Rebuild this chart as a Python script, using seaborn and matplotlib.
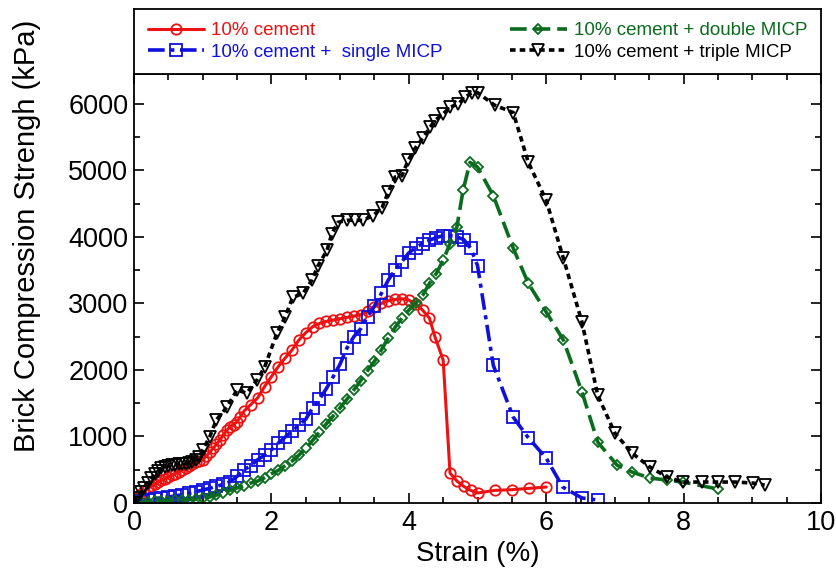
import numpy as np
import seaborn as sns
import matplotlib
matplotlib.use("Agg")
import matplotlib.pyplot as plt
from matplotlib.ticker import MultipleLocator

# data (strain %, stress kPa)
strain_c = [0, 0.05, 0.1, 0.15, 0.2, 0.25, 0.3, 0.35, 0.4, 0.45, 0.5, 0.55, 0.6, 0.65, 0.7,
            0.75, 0.8, 0.85, 0.9, 0.95, 1.0, 1.05, 1.1, 1.15, 1.2, 1.25, 1.3, 1.35, 1.4, 1.45,
            1.5, 1.55, 1.6, 1.7, 1.8, 1.9, 2.0, 2.1, 2.2, 2.3, 2.4, 2.5, 2.6, 2.7, 2.8, 2.9,
            3.0, 3.1, 3.2, 3.3, 3.4, 3.5, 3.6, 3.7, 3.8, 3.9, 4.0, 4.1, 4.2, 4.3, 4.38, 4.5,
            4.6, 4.7, 4.8, 4.9, 5.0, 5.25, 5.5, 5.75, 6.0]
stress_c = [0, 70, 130, 180, 220, 250, 280, 310, 340, 365, 390, 415, 440, 465, 495,
            525, 555, 585, 610, 630, 650, 700, 760, 820, 880, 950, 1020, 1090, 1150, 1180,
            1220, 1300, 1380, 1480, 1580, 1750, 1900, 2050, 2180, 2300, 2450, 2560, 2650, 2700, 2730, 2750,
            2770, 2790, 2810, 2830, 2880, 2950, 3000, 3040, 3060, 3070, 3050, 2990, 2900, 2780, 2500, 2150,
            450, 330, 250, 190, 150, 190, 200, 220, 240]

strain_s = [0, 0.1, 0.2, 0.3, 0.4, 0.5, 0.6, 0.7, 0.8, 0.9, 1.0, 1.1, 1.2, 1.3, 1.4, 1.5,
            1.6, 1.7, 1.8, 1.9, 2.0, 2.1, 2.2, 2.3, 2.4, 2.5, 2.6, 2.7, 2.8, 2.9, 3.0, 3.1,
            3.2, 3.3, 3.4, 3.5, 3.6, 3.7, 3.8, 3.9, 4.0, 4.1, 4.2, 4.3, 4.4, 4.5, 4.6, 4.7,
            4.8, 4.9, 5.0, 5.23, 5.52, 5.74, 6.0, 6.24, 6.52, 6.75]
stress_s = [0, 30, 50, 65, 80, 90, 105, 125, 145, 170, 195, 220, 250, 280, 320, 400,
            500, 560, 650, 720, 800, 900, 990, 1080, 1170, 1260, 1430, 1560, 1720, 1900, 2090, 2330,
            2500, 2620, 2800, 2960, 3150, 3350, 3500, 3630, 3760, 3840, 3900, 3950, 3990, 4020, 4020, 4000,
            3960, 3830, 3570, 2070, 1290, 980, 675, 240, 75, 45]

strain_d = [0, 0.1, 0.2, 0.3, 0.4, 0.5, 0.6, 0.7, 0.8, 0.9, 1.0, 1.1, 1.2, 1.3, 1.4, 1.5,
            1.6, 1.7, 1.8, 1.9, 2.0, 2.1, 2.2, 2.3, 2.4, 2.5, 2.6, 2.7, 2.8, 2.9, 3.0, 3.1,
            3.2, 3.3, 3.4, 3.5, 3.6, 3.7, 3.8, 3.9, 4.0, 4.1, 4.2, 4.3, 4.4, 4.5, 4.6, 4.7,
            4.79, 4.89, 5.0, 5.23, 5.52, 5.74, 6.0, 6.25, 6.52, 6.75, 7.03, 7.25, 7.51, 7.76, 7.99, 8.5]
stress_d = [0, 10, 20, 25, 30, 35, 40, 45, 50, 55, 75, 90, 120, 150, 190, 225,
            260, 300, 330, 380, 440, 490, 560, 630, 720, 820, 940, 1070, 1190, 1310, 1430, 1560,
            1700, 1840, 1990, 2130, 2300, 2480, 2640, 2780, 2900, 3000, 3120, 3300, 3450, 3650, 3900, 4150,
            4700, 5120, 5050, 4620, 3830, 3300, 2870, 2450, 1670, 915, 570, 465, 375, 345, 315, 210]

strain_t = [0, 0.05, 0.1, 0.15, 0.2, 0.25, 0.3, 0.35, 0.4, 0.45, 0.5, 0.55, 0.6, 0.65, 0.7,
            0.75, 0.8, 0.85, 0.9, 0.95, 1.0, 1.1, 1.2, 1.35, 1.5, 1.64, 1.79, 1.9, 2.08, 2.2,
            2.31, 2.46, 2.59, 2.68, 2.81, 2.88, 2.97, 3.1, 3.22, 3.33, 3.48, 3.61, 3.7, 3.8, 3.9,
            3.99, 4.09, 4.2, 4.31, 4.38, 4.5, 4.6, 4.72, 4.82, 4.92, 5.0, 5.25, 5.52, 5.74, 6.0,
            6.25, 6.52, 6.75, 7.0, 7.25, 7.51, 7.76, 7.99, 8.27, 8.5, 8.75, 9.01, 9.18]
stress_t = [0, 80, 160, 230, 300, 370, 430, 480, 520, 545, 560, 570, 575, 580, 585,
            590, 600, 620, 650, 690, 800, 990, 1250, 1440, 1700, 1650, 1850, 2040, 2550, 2800,
            3090, 3150, 3350, 3570, 3800, 4050, 4220, 4250, 4250, 4250, 4320, 4440, 4670, 4900, 4920,
            5150, 5330, 5480, 5650, 5750, 5850, 5950, 6000, 6100, 6170, 6170, 5980, 5870, 5120, 4550,
            3680, 2720, 1620, 1050, 750, 540, 390, 315, 315, 315, 315, 300, 270]

labels = ["10% cement", "10% cement +  single MICP",
          "10% cement + double MICP", "10% cement + triple MICP"]
colors = ["#ee1111", "#1010dd", "#0b6b1e", "black"]

sns.set_theme(style="ticks")
plt.rcParams["font.family"] = ["Liberation Sans", "DejaVu Sans"]
plt.rcParams["lines.scale_dashes"] = False
for key in ["text.color", "axes.labelcolor", "xtick.color", "ytick.color"]:
    plt.rcParams[key] = "black"

fig = plt.figure(figsize=(8.37, 5.69), dpi=100)
ax = fig.add_axes([0.1601, 0.1160, 0.8208, 0.7540])
lax = fig.add_axes([0.1601, 0.8699, 0.8208, 0.1142])

series = [
    (strain_c, stress_c, "o", 7.5, "-", 2.2),
    (strain_s, stress_s, "s", 8.5, (0, (12, 4, 3, 4)), 2.6),
    (strain_d, stress_d, "D", 5.5, (0, (12, 5)), 2.6),
    (strain_t, stress_t, "v", 8.5, (0, (4, 3)), 2.6),
]
for (x, y, mk, ms, ls, lw), lab, col in zip(series, labels, colors):
    sns.lineplot(x=x, y=y, ax=ax, color=col, marker=mk, markersize=ms,
                 markerfacecolor="none", markeredgecolor=col, markeredgewidth=1.3,
                 linestyle=ls, linewidth=lw, label=lab, sort=False, estimator=None)

handles, labs = ax.get_legend_handles_labels()
if ax.get_legend() is not None:
    ax.get_legend().remove()

ax.set_xlim(0, 10)
ax.set_ylim(0, 6450)
ax.xaxis.set_major_locator(MultipleLocator(2))
ax.xaxis.set_minor_locator(MultipleLocator(0.5))
ax.yaxis.set_major_locator(MultipleLocator(1000))
ax.yaxis.set_minor_locator(MultipleLocator(500))
ax.tick_params(which="both", direction="in", top=True, right=True, width=1.2, color="black")
ax.tick_params(which="major", length=7, labelsize=19.5)
ax.tick_params(which="minor", length=4)
ax.tick_params(axis="x", pad=5)
ax.tick_params(axis="y", pad=4)
for sp in ax.spines.values():
    sp.set_linewidth(1.3)
    sp.set_color("black")

ax.set_xlabel("Strain (%)", fontsize=20)
ax.set_ylabel("Brick Compression Strengh (kPa)", fontsize=21)
ax.yaxis.set_label_coords(-0.136, 0.622)

lax.set_xticks([])
lax.set_yticks([])
for sp in lax.spines.values():
    sp.set_linewidth(1.3)
    sp.set_color("black")
lax.legend(handles, labs, loc="center", ncol=2, frameon=False, fontsize=13.5,
           handlelength=3.0, handletextpad=0.4, columnspacing=3.6, labelspacing=0.25,
           labelcolor="linecolor", borderaxespad=0, borderpad=0)

fig.savefig("out.png", dpi=100)
